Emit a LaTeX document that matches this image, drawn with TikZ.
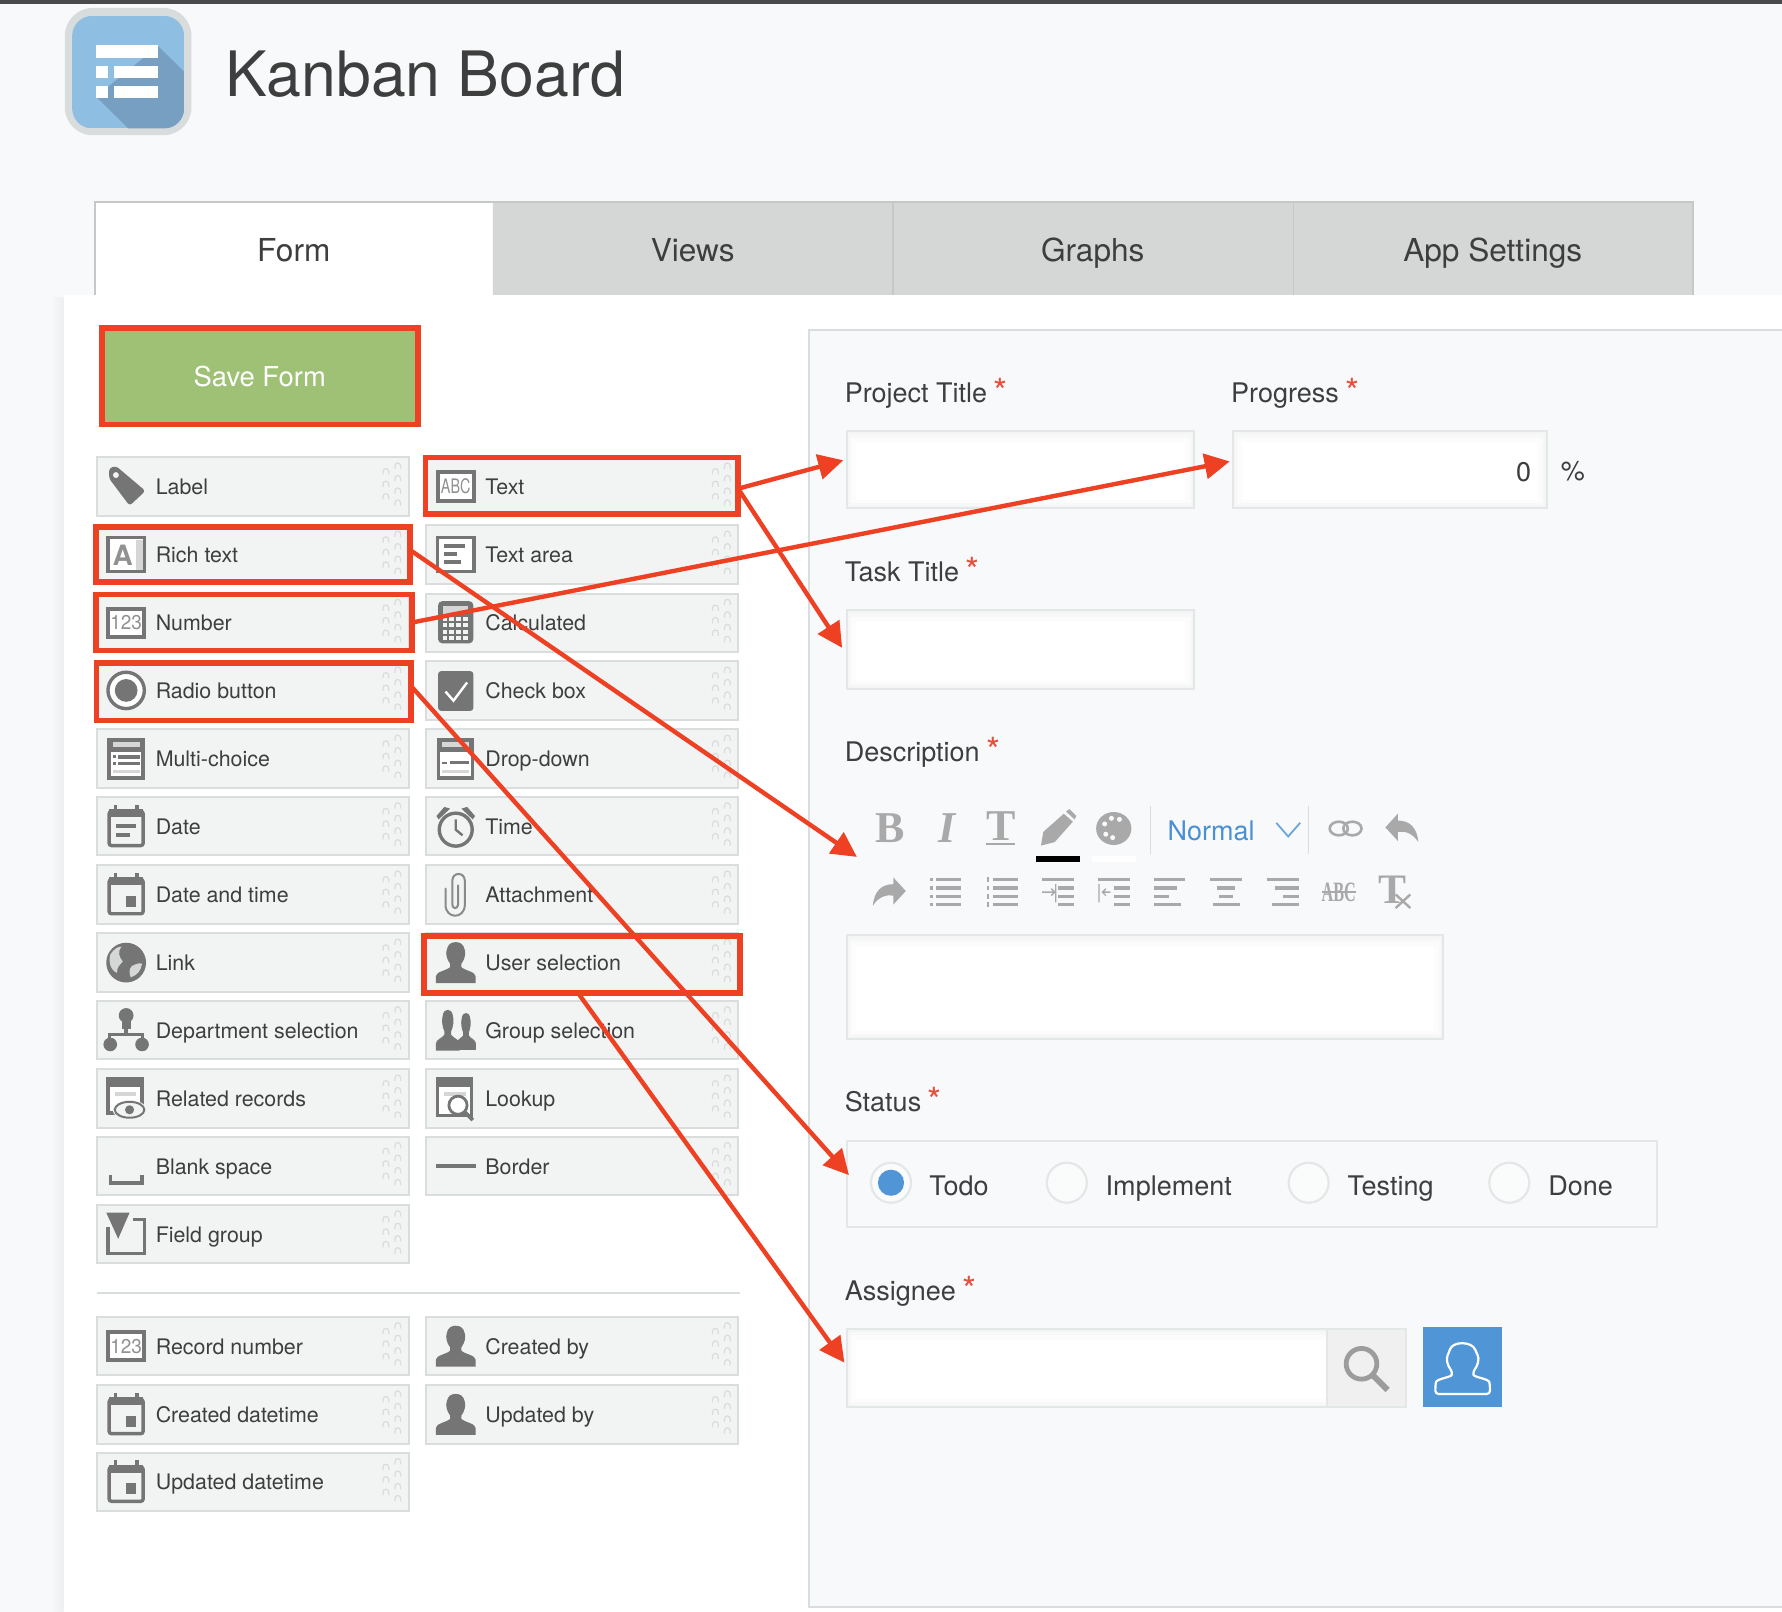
\documentclass[tikz,border=0pt]{standalone}
\usepackage{fontspec}
\setmainfont{TeX Gyre Heros}
\newfontfamily\tbserif{Liberation Serif}
\usetikzlibrary{arrows.meta,fit}
\definecolor{pagebg}{HTML}{F8F9FB}
\definecolor{topbar}{HTML}{4A4A4A}
\definecolor{tabgray}{HTML}{D5D7D6}
\definecolor{tabline}{HTML}{C6C8C8}
\definecolor{itemfill}{HTML}{F2F4F3}
\definecolor{itemline}{HTML}{DADDDD}
\definecolor{igray}{HTML}{757575}
\definecolor{tbgray}{HTML}{A9A9A9}
\definecolor{txt}{HTML}{3E3E3E}
\definecolor{arrowred}{HTML}{EE4023}
\definecolor{starred}{HTML}{E4503C}
\definecolor{saveg}{HTML}{9EC175}
\definecolor{linkblue}{HTML}{4A90D2}
\definecolor{btnblue}{HTML}{5096D6}
\definecolor{boxline}{HTML}{E4E7E8}
\definecolor{softa}{HTML}{F4F5F5}
\definecolor{softb}{HTML}{F8F8F8}
\definecolor{softc}{HTML}{FCFCFC}
\definecolor{griprc}{HTML}{DADCDC}
\definecolor{appblue}{HTML}{8FBEE3}
\definecolor{appshade}{HTML}{779FC1}
\definecolor{panelshade}{HTML}{EDEFF1}
\definecolor{radiofill}{HTML}{FAFBFB}
\definecolor{searchbg}{HTML}{F0F0F0}
\definecolor{searchgray}{HTML}{9C9C9C}
\def\un{0.56824}
\newcommand\reqstar{\hspace{3.2pt}\textcolor{starred}{\raisebox{-1pt}{\fontsize{18}{18}\selectfont *}}}
\tikzset{
  fielditem/.style={draw=itemline,fill=itemfill,line width=1pt,minimum width=156pt,minimum height=29.2pt,inner sep=0pt,outer sep=0pt},
  fieldlabel/.style={anchor=base west,inner sep=0pt,text=txt,font=\fontsize{10.7}{13}\selectfont},
  formlabel/.style={anchor=base west,inner sep=0pt,text=txt,font=\fontsize{13.5}{16}\selectfont},
  tabtext/.style={anchor=base,inner sep=0pt,text=txt,font=\fontsize{15.8}{18}\selectfont},
  boxedge/.style={draw=boxline,line width=1pt,inner sep=0pt,outer sep=0pt},
  redbox/.style={draw=arrowred,line width=2.85pt,inner sep=0pt,outer sep=0pt},
  redarrow/.style={draw=arrowred,line width=2.2pt,-{Triangle[length=12.5pt,width=12.5pt,fill=arrowred]}},
  griparc/.style={draw=griprc,line width=0.6pt},
  icontext/.style={inner sep=0pt,text=igray!80},
  tbglyph/.style={inner sep=0pt,text=tbgray},
  tbbar/.style={fill=tbgray},
  hole/.style={fill=itemfill},
  thick3/.style={line width=1.7pt},
}
\newcommand\softbox[5]{%
  \fill[softa] (#2,#3) rectangle (#4,#5);
  \fill[softb] (#2+2,#3+3) rectangle (#4-2,#5-2);
  \fill[softc] (#2+4,#3+6) rectangle (#4-4,#5-4);
  \fill[white] (#2+8,#3+10) rectangle (#4-8,#5-7);
  \coordinate (#1-a) at (#2,#3);
  \coordinate (#1-b) at (#4,#5);
  \node[boxedge,fit=(#1-a)(#1-b)] (#1) {};
}
\newcommand\redframe[5]{%
  \coordinate (#1-a) at (#2,#3);
  \coordinate (#1-b) at (#4,#5);
  \node[redbox,fit=(#1-a)(#1-b)] (#1) {};
}
\newcommand\fitem[5]{%
  \def\curitem{#1}%
  \node[fielditem] (#1) at (#2,#3) {};
  \node[fieldlabel] (#1-lab) at (#2-85.8,#3+7) {#4};
  \begin{scope}[shift={(#2+127.5,#3)}]
    \foreach \dy in {-18,-7,4,14.5} {\draw[griparc] (-2.5,\dy+2.5) -- (-2.5,\dy) .. controls (-2.5,\dy-3.5) and (2.5,\dy-3.5) .. (2.5,\dy) -- (2.5,\dy+2.5);}
    \foreach \dy in {-13,-2,9} {\draw[griparc] (-13,\dy+2.5) -- (-13,\dy) .. controls (-13,\dy-3.5) and (-8,\dy-3.5) .. (-8,\dy) -- (-8,\dy+2.5);}
  \end{scope}
  \begin{scope}[shift={(#2-111.5,#3)}]
    #5
  \end{scope}
}
% icons
\newcommand\icoTag{%
  \fill[igray,rounded corners=1.5pt] (-9,-18) -- (-15,-16) -- (-15,-7) -- (3,17) -- (17,4) -- cycle;
  \fill[hole] (-9,-10) circle (2.6);
}
\newcommand\icoBoxText[2]{%
  \draw[igray,line width=2pt,fill=white] (-16,-12.5) rectangle (16,12.5);
  \node[icontext,font=\fontsize{10}{10}\selectfont,xscale=#2,transform shape] (\curitem-glyph) at (0,0) {#1};
}
\newcommand\icoRich{%
  \draw[igray,thick3,fill=white] (-16,-15) rectangle (16,15);
  \fill[tabgray] (9,-13) rectangle (14.5,13.5);
  \node[icontext,font=\fontsize{14}{14}\bfseries] (\curitem-glyph) at (-3,0.5) {A};
}
\newcommand\icoTextArea{%
  \draw[igray,thick3,fill=white] (-16,-15) rectangle (16,15);
  \fill[igray] (-10,-9) rectangle (8,-5.5);
  \fill[igray] (-10,-2) rectangle (1,1.5);
  \fill[igray] (-10,5) rectangle (5,8.5);
}
\newcommand\icoCalc{%
  \fill[igray,rounded corners=2pt] (-15.5,-19) rectangle (15.5,18);
  \fill[tabgray] (-11,-15) rectangle (11,-8);
  \foreach \gx in {-11.5,-5.5,0.5,6.5} {\foreach \gy in {-5,0.5,6,11.5} {\fill[itemfill] (\gx,\gy) rectangle (\gx+4,\gy+3.5);}}
}
\newcommand\icoCheck{%
  \fill[igray,rounded corners=1.5pt] (-15.5,-17) rectangle (15.5,18);
  \draw[white,line width=1.2pt] (-9,1) -- (-2,9) -- (10,-7);
}
\newcommand\icoFormBase{%
  \draw[igray,thick3,fill=white] (-15,-16.5) rectangle (15,17);
  \fill[igray] (-15,-18) rectangle (15,-6);
  \fill[tabgray] (-12,-14.5) rectangle (12,-10.5);
}
\newcommand\icoMulti{\icoFormBase
  \fill[igray] (-7,-3) rectangle (12,0);
  \fill[igray] (-7,3) rectangle (12,6);
  \fill[igray] (-12,-3) rectangle (-9,-0.5);
  \fill[igray] (-12,3) rectangle (-9,5.5);
  \fill[tabgray] (-12,10) rectangle (12,13);
}
\newcommand\icoDrop{\icoFormBase
  \fill[igray] (-5,2) rectangle (12,5);
  \fill[igray] (-12,3) rectangle (-8,5);
  \fill[tabgray] (-12,10) rectangle (12,13);
}
\newcommand\icoCal{%
  \draw[igray,thick3,fill=itemfill,rounded corners=1.2pt] (-15,-13) rectangle (15,17);
  \fill[igray] (-15,-15) rectangle (15,-8);
  \fill[igray] (-11,-19) rectangle (-8,-13);
  \fill[igray] (8,-19) rectangle (11,-13);
}
\newcommand\icoDate{\icoCal
  \fill[igray] (-9,-2) rectangle (9,1.5);
  \fill[igray] (-9,6) rectangle (3,9.5);
}
\newcommand\icoDateTime{\icoCal
  \fill[igray] (0,1) rectangle (9,11);
}
\newcommand\icoTime{%
  \draw[igray,thick3,fill=itemfill] (0,3) circle (14.5);
  \draw[igray,line width=1.2pt] (0,-6) -- (0,3) -- (6,8);
  \fill[igray] (-17,-9) -- (-10,-17) -- (-5,-15.5) -- (-15,-6) -- cycle;
  \fill[igray] (17,-9) -- (10,-17) -- (5,-15.5) -- (15,-6) -- cycle;
}
\newcommand\icoClip{%
  \draw[igray!85,line width=1pt,line cap=round] (2,-8) -- (2,9) .. controls (2,13) and (-3,13) .. (-3,9) -- (-3,-12) .. controls (-3,-20) and (8,-20) .. (8,-12) -- (8,9) .. controls (8,22) and (-9,22) .. (-9,9) -- (-9,-5);
}
\newcommand\icoSilh{%
  \fill[igray] (-17.5,18) -- (-17.5,12) .. controls (-17.5,8) and (-8,7) .. (-5,4) -- (-5,1) .. controls (-8,-3) and (-9,-8) .. (-8,-11) .. controls (-7,-17) and (-3,-18) .. (0,-18) .. controls (3,-18) and (7,-17) .. (8,-11) .. controls (9,-8) and (8,-3) .. (5,1) -- (5,4) .. controls (8,7) and (17.5,8) .. (17.5,12) -- (17.5,18) -- cycle;
}
\newcommand\icoGlobe{%
  \fill[igray] (0,0) circle (17.5);
  \fill[tabgray] (-14,-7) .. controls (-10,-13) and (-7,-14) .. (-4,-14) .. controls (-8,-9) and (-6,-5) .. (-3,-1) .. controls (-6,3) and (-8,3) .. (-8,9) .. controls (-12,8) and (-16,2) .. (-14,-7) -- cycle;
  \fill[tabgray] (5,3) .. controls (9,1) and (12,0) .. (14,1) .. controls (13,7) and (10,11) .. (4,13) .. controls (3,10) and (2,6) .. (5,3) -- cycle;
}
\newcommand\icoDept{%
  \fill[igray] (0,-13) circle (6.5);
  \fill[igray] (-4,-9) rectangle (4,-1);
  \fill[igray] (-1.5,-2) rectangle (1.5,4);
  \fill[igray] (-14.5,2) rectangle (14.5,5);
  \fill[igray] (-16,2) rectangle (-13,8);
  \fill[igray] (13,2) rectangle (16,8);
  \fill[igray] (-14,12.5) circle (6);
  \fill[igray] (14,12.5) circle (6);
}
\newcommand\icoGroup{%
  \begin{scope}[shift={(9,1)},xscale=0.5,yscale=0.9]\icoSilh\end{scope}
  \draw[itemfill,line width=0.9pt] (0,18) -- (0,9) -- (3,6);
  \begin{scope}[shift={(-7,0)},xscale=0.6,yscale=1]\icoSilh\end{scope}
}
\newcommand\icoRelated{%
  \draw[igray,thick3,fill=white] (-16,-17) rectangle (14,13);
  \fill[igray] (-17,-18) rectangle (15,-10);
  \fill[tabgray] (-10,-6) rectangle (9,-2);
  \fill[itemfill] (3,10) ellipse (15 and 8.5);
  \draw[igray,line width=1pt] (3,10) ellipse (13 and 7);
  \fill[igray] (3,10) circle (4);
}
\newcommand\icoLookup{%
  \draw[igray,thick3,fill=white] (-16,-17) rectangle (14,15);
  \fill[igray] (-17,-18) rectangle (15,-10);
  \fill[tabgray] (-10,-6) rectangle (9,-2);
  \draw[igray,line width=1.4pt,fill=white] (2,6) circle (8);
  \draw[igray,line width=1.8pt] (8,12) -- (15,19);
}
\newcommand\icoBlank{%
  \draw[igray,thick3] (-14,8) -- (-14,15) -- (14,15) -- (14,8);
}
\newcommand\icoBorder{%
  \fill[igray] (-17.5,-2) rectangle (17.5,2);
}
\newcommand\icoGroupF{%
  \draw[igray,thick3] (6,-13) -- (16,-13) -- (16,17) -- (-16,17) -- (-16,-6);
  \fill[igray] (-17.5,-19) -- (3,-19) -- (-7,4) -- cycle;
}
\begin{document}
\begin{tikzpicture}[x=\un pt,y=-\un pt]
\useasboundingbox (0,0) rectangle (1568,1418.4);
\fill[pagebg] (0,0) rectangle (1568,1418.4);
\fill[topbar] (0,0) rectangle (1568,3.5);
% app icon
\fill[boxline!95!black,rounded corners=14pt] (57,7) rectangle (168.5,119);
\begin{scope}
  \clip[rounded corners=10pt] (63.5,14) rectangle (162,113);
  \fill[appblue] (63.5,14) rectangle (162,113);
  \fill[appshade] (139,40.5) -- (162,63) -- (162,113) -- (113,113) -- (84.5,85) -- cycle;
\end{scope}
\fill[white] (84.5,40) rectangle (139,51);
\fill[white] (84.5,58) rectangle (95,68.5);
\fill[white] (100,58) rectangle (139,68.5);
\fill[white] (84.5,75.5) rectangle (95,86);
\fill[white] (100,75.5) rectangle (139,86);
\node[anchor=base west,inner sep=0pt,text=txt,font=\fontsize{31.3}{36}\selectfont] (title) at (198,85) {Kanban Board};
% panel + tabs
\shade[left color=pagebg,right color=panelshade] (44,262) rectangle (56,1418.4);
\fill[tabgray] (434,177) rectangle (1490,260);
\draw[tabline,line width=1pt] (83.5,260) -- (83.5,177.5) -- (1490,177.5) -- (1490,260);
\draw[tabline,line width=0.8pt] (786,177) -- (786,260);
\draw[tabline,line width=0.8pt] (1138,177) -- (1138,260);
\fill[white] (84.5,178.5) rectangle (433,262);
\fill[white] (56,260) rectangle (1568,1418.4);
\node[tabtext] (tab-form) at (258.5,230.5) {Form};
\node[tabtext] (tab-views) at (609.5,230.5) {Views};
\node[tabtext] (tab-graphs) at (961.5,230.5) {Graphs};
\node[tabtext] (tab-app) at (1313.5,230.5) {App Settings};
% save
\node[fill=saveg,minimum width=156pt,minimum height=46pt,inner sep=0pt,text=white,font=\fontsize{13.7}{16}\selectfont] (save) at (228.5,331) {\raisebox{-2.5pt}{Save Form}};
\redframe{fr-save}{89.5}{288.5}{367.5}{373.5}
% palette
\def\colL{222.5}\def\colR{512.5}
\fitem{label}{\colL}{428}{Label}{\icoTag}
\fitem{text}{\colR}{428}{Text}{\icoBoxText{ABC}{0.72}}
\fitem{rich}{\colL}{488}{Rich text}{\icoRich}
\fitem{textarea}{\colR}{488}{Text area}{\icoTextArea}
\fitem{number}{\colL}{548}{Number}{\icoBoxText{123}{0.95}}
\fitem{calc}{\colR}{548}{Calculated}{\icoCalc}
\fitem{radio}{\colL}{607.5}{Radio button}{\draw[igray,thick3,fill=white] (0,0) circle (16);\fill[igray] (0,0) circle (10);}
\fitem{check}{\colR}{607.5}{Check box}{\icoCheck}
\fitem{multi}{\colL}{667.5}{Multi-choice}{\icoMulti}
\fitem{drop}{\colR}{667.5}{Drop-down}{\icoDrop}
\fitem{date}{\colL}{727}{Date}{\icoDate}
\fitem{time}{\colR}{727}{Time}{\icoTime}
\fitem{datetime}{\colL}{787}{Date and time}{\icoDateTime}
\fitem{attach}{\colR}{787}{Attachment}{\icoClip}
\fitem{link}{\colL}{847}{Link}{\icoGlobe}
\fitem{user}{\colR}{847}{User selection}{\icoSilh}
\fitem{dept}{\colL}{906.5}{Department selection}{\icoDept}
\fitem{group}{\colR}{906.5}{Group selection}{\icoGroup}
\fitem{related}{\colL}{966.5}{Related records}{\icoRelated}
\fitem{lookup}{\colR}{966.5}{Lookup}{\icoLookup}
\fitem{blank}{\colL}{1026}{Blank space}{\icoBlank}
\fitem{border}{\colR}{1026}{Border}{\icoBorder}
\fitem{fgroup}{\colL}{1086}{Field group}{\icoGroupF}
\draw[itemline,line width=1pt] (85,1137.5) -- (651,1137.5);
\fitem{recno}{\colL}{1184.5}{Record number}{\icoBoxText{123}{0.95}}
\fitem{createdby}{\colR}{1184.5}{Created by}{\icoSilh}
\fitem{createddt}{\colL}{1244.5}{Created datetime}{\icoDateTime}
\fitem{updatedby}{\colR}{1244.5}{Updated by}{\icoSilh}
\fitem{updateddt}{\colL}{1304}{Updated datetime}{\icoDateTime}
% right panel
\fill[pagebg] (712,290) rectangle (1568,1414);
\draw[itemline,line width=1pt] (1568,290) -- (712,290) -- (712,1414) -- (1568,1414);
\node[formlabel] (l-project) at (743,354) {Project Title\reqstar};
\node[formlabel] (l-progress) at (1083,354) {Progress\reqstar};
\node[formlabel] (l-task) at (743,512) {Task Title\reqstar};
\node[formlabel] (l-desc) at (743,670) {Description\reqstar};
\node[formlabel] (l-status) at (743,978) {Status\reqstar};
\node[formlabel] (l-assignee) at (743,1144) {Assignee\reqstar};
\softbox{in-project}{745}{379}{1051}{447}
\softbox{in-progress}{1085}{379}{1361}{447}
\softbox{in-task}{745}{537}{1051}{606}
\softbox{in-desc}{745}{823}{1270}{914}
\node[formlabel,anchor=base east] (zero) at (1347.5,424) {0};
\node[formlabel] (pct) at (1373,423) {\%};
% toolbar row 1
\node[tbglyph,font=\tbserif\bfseries\fontsize{22}{22}\selectfont] (tb-b) at (783,729) {B};
\node[tbglyph,font=\tbserif\bfseries\itshape\fontsize{22}{22}\selectfont] (tb-i) at (833,729) {I};
\node[tbglyph,font=\tbserif\bfseries\fontsize{22}{22}\selectfont] (tb-t) at (881,727) {T};
\fill[tbbar] (868,741.5) rectangle (893,743.5);
\begin{scope}[shift={(931,729)}]
  \fill[tbgray] (-15,15) -- (-13,3) -- (5,-13) -- (13,-6) -- (-3,12) -- cycle;
  \fill[tbgray] (7,-15) -- (10,-17) -- (16,-11) -- (14.5,-8) -- cycle;
\end{scope}
\fill[black] (911.5,753) rectangle (950.5,758.5);
\begin{scope}[shift={(980,729)}]
  \fill[tbgray] (0,0) ellipse (15.5 and 14.5);
  \foreach \hx/\hy in {-8/-4,-2/-9,5/-8,-7/5,-1/8} {\fill[pagebg] (\hx,\hy) circle (2.2);}
\end{scope}
\fill[white] (961,753) rectangle (1000,758.5);
\draw[itemline,line width=0.8pt] (1012.5,709) -- (1012.5,751);
\node[formlabel,text=linkblue] (normal) at (1027,739.5) {Normal};
\draw[linkblue!80,line width=0.9pt] (1123,724) -- (1133.5,736) -- (1144,724);
\draw[itemline,line width=0.8pt] (1151.5,709) -- (1151.5,751);
\draw[tbgray,line width=1.3pt] (1178,729) ellipse (8 and 6);
\draw[tbgray,line width=1.3pt] (1190,729) ellipse (8 and 6);
\fill[tbgray,shift={(1233,729)}] (-14,-1) -- (-3,-13) -- (-3,-7) .. controls (8,-7) and (14,0) .. (15,12) .. controls (10,4) and (3,2) .. (-3,3) -- (-3,11) -- cycle;
% toolbar row 2
\fill[tbgray,shift={(783,785)},xscale=-1] (-14,-1) -- (-3,-13) -- (-3,-7) .. controls (8,-7) and (14,0) .. (15,12) .. controls (10,4) and (3,2) .. (-3,3) -- (-3,11) -- cycle;
\begin{scope}[shift={(832,785)}]
  \foreach \dy in {-11,-3.7,3.7,11} {\fill[tbbar] (-8,\dy-1.5) rectangle (14,\dy+1.5); \fill[tbbar] (-14,\dy-1.5) rectangle (-11,\dy+1.5);}
\end{scope}
\begin{scope}[shift={(882,785)}]
  \foreach \dy in {-11,-3.7,3.7,11} {\fill[tbbar] (-8,\dy-1.5) rectangle (14,\dy+1.5); \fill[tbbar] (-13.5,\dy-2) rectangle (-11.5,\dy+2);}
\end{scope}
\begin{scope}[shift={(931,785)}]
  \fill[tbbar] (-14,-12.5) rectangle (14,-9.5);
  \fill[tbbar] (0,-5.2) rectangle (14,-2.2);
  \fill[tbbar] (0,2.2) rectangle (14,5.2);
  \fill[tbbar] (0,9.5) rectangle (14,12.5);
  \draw[tbgray,line width=0.7pt] (-14,0) -- (-3,0) (-6,-3) -- (-3,0) -- (-6,3) (-2,-7) -- (-2,9);
\end{scope}
\begin{scope}[shift={(980,785)}]
  \fill[tbbar] (-14,-12.5) rectangle (14,-9.5);
  \fill[tbbar] (0,-5.2) rectangle (14,-2.2);
  \fill[tbbar] (0,2.2) rectangle (14,5.2);
  \fill[tbbar] (0,9.5) rectangle (14,12.5);
  \draw[tbgray,line width=0.7pt] (-3,0) -- (-10,0) (-7,-3) -- (-10,0) -- (-7,3) (-13,-7) -- (-13,9);
\end{scope}
\begin{scope}[shift={(1029,785)}]
  \fill[tbbar] (-14,-12.5) rectangle (14,-9.5);
  \fill[tbbar] (-14,-5.2) rectangle (7,-2.2);
  \fill[tbbar] (-14,2.2) rectangle (0,5.2);
  \fill[tbbar] (-14,9.5) rectangle (10,12.5);
\end{scope}
\begin{scope}[shift={(1079,785)}]
  \fill[tbbar] (-14,-12.5) rectangle (14,-9.5);
  \fill[tbbar] (-8,-5.2) rectangle (8,-2.2);
  \fill[tbbar] (-6,2.2) rectangle (6,5.2);
  \fill[tbbar] (-12,9.5) rectangle (12,12.5);
\end{scope}
\begin{scope}[shift={(1129,785)}]
  \fill[tbbar] (-14,-12.5) rectangle (14,-9.5);
  \fill[tbbar] (-7,-5.2) rectangle (14,-2.2);
  \fill[tbbar] (0,2.2) rectangle (14,5.2);
  \fill[tbbar] (-10,9.5) rectangle (14,12.5);
\end{scope}
\node[tbglyph,font=\tbserif\bfseries\fontsize{14}{14}\selectfont,xscale=0.58,transform shape] (tb-abc) at (1178,785) {ABC};
\fill[tbbar] (1163,784) rectangle (1193,786);
\node[tbglyph,font=\tbserif\bfseries\fontsize{21}{21}\selectfont] (tb-tx) at (1225,783) {T};
\draw[tbgray,line width=1.2pt] (1228,787) -- (1241,799) (1241,787) -- (1228,799);
% status
\coordinate (st-a) at (745,1004);
\coordinate (st-b) at (1458,1079.5);
\node[boxedge,fit=(st-a)(st-b)] (statusbox) {};
\foreach \nm/\rx in {todo/784,impl/938.7,test/1151.5,done/1328} {\node[circle,draw=boxline,fill=radiofill,line width=1.1pt,minimum size=20pt,inner sep=0pt] (r-\nm) at (\rx,1040.7) {};}
\fill[btnblue] (784,1040.7) circle (11.5);
\node[formlabel] (o-todo) at (817.5,1052) {Todo};
\node[formlabel] (o-impl) at (972.5,1052) {Implement};
\node[formlabel] (o-test) at (1185.5,1052) {Testing};
\node[formlabel] (o-done) at (1362,1052) {Done};
% assignee
\softbox{in-assignee}{745}{1169}{1237}{1238}
\fill[searchbg] (1167.5,1170) rectangle (1236.5,1237.5);
\draw[boxline,line width=0.8pt] (1167.5,1169) -- (1167.5,1238);
\draw[searchgray,line width=2.4pt] (1198,1200) circle (13.5);
\draw[searchgray,line width=3pt] (1208,1210) -- (1221,1223);
\node[fill=btnblue,minimum width=39.8pt,minimum height=39.8pt,inner sep=0pt] (userbtn) at (1287,1203) {};
\draw[white,line width=1.1pt,rounded corners=1.5pt] (1263,1226.5) -- (1263,1219) .. controls (1264,1213) and (1277,1212) .. (1278,1207) .. controls (1274,1202) and (1272,1196) .. (1275,1190) .. controls (1278,1180) and (1295,1180) .. (1299,1190) .. controls (1302,1196) and (1300,1202) .. (1296,1207) .. controls (1297,1212) and (1310,1213) .. (1311,1219) -- (1311,1226.5) -- cycle;
% red frames
\redframe{fr-text}{374.5}{402.5}{649.5}{452.5}
\redframe{fr-rich}{84.5}{463.5}{360.5}{512}
\redframe{fr-number}{84.5}{523}{362.5}{572.5}
\redframe{fr-radio}{85}{583.5}{361.5}{634}
\redframe{fr-user}{373}{823.5}{651}{873.5}
% connector ends
\coordinate (tip-project) at (742,405);
\coordinate (tip-task) at (741,570);
\coordinate (tip-desc) at (754,754);
\coordinate (tip-progress) at (1082,406);
\coordinate (tip-status) at (747,1034);
\coordinate (tip-assignee) at (743,1199);
\draw[redarrow] ([yshift=-1.4pt]fr-text.east) -- (tip-project);
\draw[redarrow] ([yshift=-1.4pt]fr-text.east) -- (tip-task);
\draw[redarrow] ([yshift=2.3pt]fr-rich.east) -- (tip-desc);
\draw[redarrow] (fr-number.east) -- (tip-progress);
\draw[redarrow] ([yshift=3pt]fr-radio.east) -- (tip-status);
\draw[redarrow] ([xshift=-2pt]fr-user.south) -- (tip-assignee);
\end{tikzpicture}
\end{document}
